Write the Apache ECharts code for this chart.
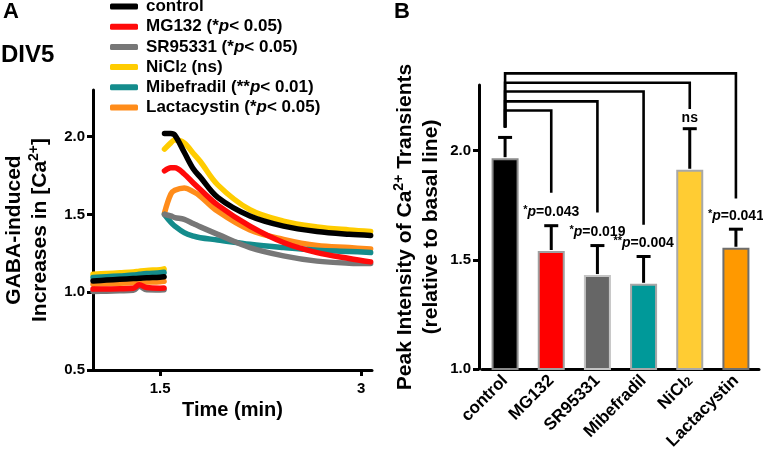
<!DOCTYPE html>
<html><head><meta charset="utf-8">
<script src="https://cdn.jsdelivr.net/npm/echarts@6/dist/echarts.min.js"></script>
<style>html,body{margin:0;padding:0;background:#fff}#c{width:763px;height:460px}</style>
</head><body><div id="c"></div>
<script>
const FONT = 'Liberation Sans, Arial, Helvetica, sans-serif';

// ---------- Panel A data ----------
const legendNames = ['control', 'MG132', 'SR95331', 'NiCl2', 'Mibefradil', 'Lactacystin'];
const drawOrder = ['NiCl2', 'Lactacystin', 'Mibefradil', 'SR95331', 'MG132', 'control'];
const lineColors = {control: '#000000', MG132: '#ff0a0a', SR95331: '#777777', NiCl2: '#ffcc00', Mibefradil: '#148c8c', Lactacystin: '#ff8c1a'};
const baseTimes = [1.0, 1.1, 1.2, 1.3, 1.345, 1.4, 1.5, 1.53];
const respTimes = [1.533, 1.58, 1.61, 1.68, 1.75, 1.80, 1.93, 2.17, 2.42, 2.67, 2.91, 3.07];
const controlBase = [1.072, 1.078, 1.083, 1.088, 1.09, 1.093, 1.097, 1.10];
const controlResp = [2.02, 2.02, 2.01, 1.90, 1.79, 1.74, 1.61, 1.49, 1.425, 1.39, 1.372, 1.365];
const mg132Base = [1.02, 1.021, 1.022, 1.025, 1.048, 1.03, 1.026, 1.027];
const mg132Resp = [1.78, 1.80, 1.80, 1.76, 1.70, 1.66, 1.56, 1.425, 1.32, 1.255, 1.217, 1.195];
const srBase = [1.005, 1.007, 1.009, 1.012, 1.038, 1.016, 1.015, 1.016];
const srResp = [1.50, 1.49, 1.48, 1.468, 1.44, 1.42, 1.372, 1.287, 1.234, 1.20, 1.187, 1.185];
const niBase = [1.115, 1.12, 1.125, 1.13, 1.135, 1.14, 1.145, 1.15];
const niResp = [1.92, 1.96, 1.98, 1.96, 1.89, 1.84, 1.69, 1.53, 1.457, 1.42, 1.40, 1.39];
const mibeBase = [1.095, 1.10, 1.105, 1.11, 1.115, 1.12, 1.125, 1.128];
const mibeResp = [1.50, 1.45, 1.425, 1.383, 1.36, 1.35, 1.336, 1.308, 1.287, 1.27, 1.262, 1.255];
const lactaBase = [1.052, 1.055, 1.058, 1.061, 1.063, 1.065, 1.068, 1.07];
const lactaResp = [1.51, 1.63, 1.655, 1.67, 1.645, 1.617, 1.52, 1.40, 1.34, 1.30, 1.287, 1.278];
const lineData = {
  control: [controlBase, controlResp], MG132: [mg132Base, mg132Resp], SR95331: [srBase, srResp],
  NiCl2: [niBase, niResp], Mibefradil: [mibeBase, mibeResp], Lactacystin: [lactaBase, lactaResp]
};
const aYTicks = [0.5, 1.0, 1.5, 2.0];
const aXTicks = [1.5, 3];
const legendLabels = {
  control: '{b|control}',
  MG132: '{b|MG132 (*}{i|p}{b|< 0.05)}',
  SR95331: '{b|SR95331 (*}{i|p}{b|< 0.05)}',
  NiCl2: '{b|NiCl}{sub|2}{b| (ns)}',
  Mibefradil: '{b|Mibefradil (**}{i|p}{b|< 0.01)}',
  Lactacystin: '{b|Lactacystin (*}{i|p}{b|< 0.05)}'
};

// ---------- Panel B data ----------
const barCategories = ['control', 'MG132', 'SR95331', 'Mibefradil', 'NiCl2', 'Lactacystin'];
const barMeans = [1.965, 1.54, 1.43, 1.39, 1.912, 1.555];
const barErrors = [0.095, 0.116, 0.135, 0.125, 0.188, 0.085];
const barColors = ['#000000', '#ff0000', '#666666', '#009999', '#ffcc33', '#ff9900'];
const barBorders = ['#8a8a8a', '#a0a0a0', '#c4c4c4', '#a8a8a8', '#a8a8a8', '#6e6e6e'];
const pStars = ['', '*', '*', '**', '', '*'];
const pTexts = ['', '=0.043', '=0.019', '=0.004', 'ns', '=0.041'];
const bracketTargets = [1, 2, 3, 4, 5];
const bracketLevels = [2.183, 2.225, 2.27, 2.31, 2.353];
const bracketDrops = [1.807, 1.716, 1.66, 2.19, 1.78];
const bracketBase = 2.106;
const bYTicks = [1.0, 1.5, 2.0];

const boldTxt = {fontFamily: FONT, fontWeight: 'bold', color: '#000'};

const lineSeries = drawOrder.map(name => {
  const [b, r] = lineData[name];
  const data = baseTimes.map((t, i) => [t, b[i]]).concat([[1.531, null]]).concat(respTimes.map((t, i) => [t, r[i]]));
  return {
    name, type: 'line', xAxisIndex: 0, yAxisIndex: 0, data, showSymbol: false, symbol: 'none',
    smooth: 0.35, connectNulls: false, color: lineColors[name],
    lineStyle: {width: 5.5, color: lineColors[name], cap: 'round', join: 'round'},
    emphasis: {disabled: true}, animation: false
  };
});

const richTitle = {
  b: {fontFamily: FONT, fontWeight: 'bold', fontSize: 21, color: '#000', lineHeight: 26},
  sup: {fontFamily: FONT, fontWeight: 'bold', fontSize: 14, color: '#000', lineHeight: 26, verticalAlign: 'top'}
};

const option = {
  animation: false,
  backgroundColor: '#fff',
  textStyle: {fontFamily: FONT},
  graphic: [
    {type: 'text', left: 3, top: 1, style: {text: 'A', fontSize: 22, fontWeight: 'bold', fontFamily: FONT, fill: '#000'}},
    {type: 'text', left: 1, top: 43, style: {text: 'DIV5', fontSize: 24, fontWeight: 'bold', fontFamily: FONT, fill: '#000'}},
    {type: 'text', left: 394, top: 1, style: {text: 'B', fontSize: 22, fontWeight: 'bold', fontFamily: FONT, fill: '#000'}}
  ],
  legend: {
    data: legendNames, orient: 'vertical', left: 110, top: -2, padding: 0, itemWidth: 28, itemHeight: 6, itemGap: 3.2,
    icon: 'roundRect', selectedMode: false,
    formatter: name => legendLabels[name],
    textStyle: {
      fontFamily: FONT, fontSize: 17, fontWeight: 'bold', color: '#000', lineHeight: 15, padding: [0, 0, 0, 3],
      rich: {
        b: {fontFamily: FONT, fontSize: 17, fontWeight: 'bold', color: '#000', lineHeight: 15},
        i: {fontFamily: FONT, fontSize: 17, fontWeight: 'bold', fontStyle: 'italic', color: '#000', lineHeight: 15},
        sub: {fontFamily: FONT, fontSize: 12, fontWeight: 'bold', color: '#000', lineHeight: 6, verticalAlign: 'bottom'}
      }
    }
  },
  grid: [
    {left: 92, top: 90, width: 280, height: 280, containLabel: false},
    {left: 482, top: 85, right: 4, height: 284, containLabel: false}
  ],
  xAxis: [
    {
      type: 'value', gridIndex: 0, min: 1.0, max: 3.08,
      name: 'Time (min)', nameLocation: 'middle', nameGap: 22,
      nameTextStyle: {...boldTxt, fontSize: 20},
      axisLine: {show: true, onZero: false, lineStyle: {color: '#000', width: 3}},
      axisTick: {show: true, length: 6, lineStyle: {color: '#000', width: 3}, customValues: aXTicks},
      axisLabel: {...boldTxt, fontSize: 15, margin: 11, customValues: aXTicks},
      splitLine: {show: false}
    },
    {
      type: 'category', gridIndex: 1, data: barCategories, boundaryGap: true,
      axisLine: {show: true, lineStyle: {color: '#000', width: 3}},
      axisTick: {show: false},
      axisLabel: {
        ...boldTxt, fontSize: 17, rotate: 45, margin: 9, interval: 0,
        formatter: v => v === 'NiCl2' ? '{b|NiCl}{sub|2}' : '{b|' + v + '}',
        rich: {
          b: {fontFamily: FONT, fontSize: 17, fontWeight: 'bold', color: '#000', lineHeight: 16},
          sub: {fontFamily: FONT, fontSize: 12, fontWeight: 'bold', color: '#000', lineHeight: 6, verticalAlign: 'bottom'}
        }
      },
      splitLine: {show: false}
    }
  ],
  yAxis: [
    {
      type: 'value', gridIndex: 0, min: 0.5, max: 2.3,
      name: '{b|GABA-induced}\n{b|Increases in [Ca}{sup|2+}{b|]}', nameLocation: 'middle', nameGap: 40, nameRotate: 90,
      nameTextStyle: {...boldTxt, fontSize: 21, lineHeight: 26, rich: richTitle},
      axisLine: {show: true, onZero: false, lineStyle: {color: '#000', width: 3}},
      axisTick: {show: true, length: 6, lineStyle: {color: '#000', width: 3}, customValues: aYTicks},
      axisLabel: {...boldTxt, fontSize: 15, margin: 8, customValues: aYTicks, formatter: v => Number(v).toFixed(1)},
      splitLine: {show: false}
    },
    {
      type: 'value', gridIndex: 1, min: 1.0, max: 2.3, offset: 3,
      name: '{b|Peak Intensity of Ca}{sup|2+}{b| Transients}\n{b|(relative to basal line)}', nameLocation: 'middle', nameGap: 35, nameRotate: 90,
      nameTextStyle: {...boldTxt, fontSize: 21, lineHeight: 26, rich: richTitle},
      axisLine: {show: true, onZero: false, lineStyle: {color: '#000', width: 3}},
      axisTick: {show: true, length: 6, lineStyle: {color: '#000', width: 3}, customValues: bYTicks},
      axisLabel: {...boldTxt, fontSize: 15, margin: 8, customValues: bYTicks, formatter: v => Number(v).toFixed(1)},
      splitLine: {show: false}
    }
  ],
  series: lineSeries.concat([
    {
      name: 'peak', type: 'bar', xAxisIndex: 1, yAxisIndex: 1, barWidth: 27,
      data: barMeans.map((v, i) => ({value: v, itemStyle: {color: barColors[i], borderColor: barBorders[i], borderWidth: 2}})),
      emphasis: {disabled: true}, z: 2
    },
    {
      name: 'errors', type: 'custom', xAxisIndex: 1, yAxisIndex: 1, clip: false, z: 3,
      data: barMeans.map((v, i) => [i, v, barErrors[i]]),
      renderItem: (params, api) => {
        const i = api.value(0);
        const base = api.coord([i, api.value(1)]);
        const top = api.coord([i, api.value(1) + api.value(2)]);
        const cap = 7;
        const children = [
          {type: 'line', shape: {x1: top[0], y1: base[1] - 1, x2: top[0], y2: top[1]}, style: {stroke: '#000', lineWidth: 3}},
          {type: 'line', shape: {x1: top[0] - cap, y1: top[1], x2: top[0] + cap, y2: top[1]}, style: {stroke: '#000', lineWidth: 3}}
        ];
        const txt = pTexts[i];
        if (txt) {
          const rich = txt === 'ns'
            ? '{n|ns}'
            : '{s|' + pStars[i] + '}{i|p}{n|' + txt + '}';
          children.push({
            type: 'text',
            style: {
              x: top[0], y: top[1] - (txt === 'ns' ? 3 : 6), text: rich, align: 'center', verticalAlign: 'bottom',
              rich: {
                s: {fontFamily: FONT, fontSize: 11, fontWeight: 'bold', fill: '#000', lineHeight: 15, verticalAlign: 'top'},
                i: {fontFamily: FONT, fontSize: 14, fontWeight: 'bold', fontStyle: 'italic', fill: '#000', lineHeight: 15},
                n: {fontFamily: FONT, fontSize: 14, fontWeight: 'bold', fill: '#000', lineHeight: 15}
              }
            }
          });
        }
        return {type: 'group', children};
      }
    },
    {
      name: 'brackets', type: 'custom', xAxisIndex: 1, yAxisIndex: 1, clip: false, z: 3,
      data: bracketTargets.map((t, k) => [t, bracketLevels[k], bracketDrops[k]]),
      renderItem: (params, api) => {
        const t = api.value(0), lvl = api.value(1), drop = api.value(2);
        const c0 = api.coord([0, bracketBase]);
        const c1 = api.coord([0, lvl]);
        const c2 = api.coord([t, lvl]);
        const c3 = api.coord([t, drop]);
        return {
          type: 'polyline',
          shape: {points: [c0, c1, c2, c3]},
          style: {stroke: '#000', lineWidth: 2.6, fill: null, lineJoin: 'miter'}
        };
      }
    }
  ])
};

const chart = echarts.init(document.getElementById('c'), null, {renderer: 'canvas'});
chart.setOption(option);
</script>
</body></html>
